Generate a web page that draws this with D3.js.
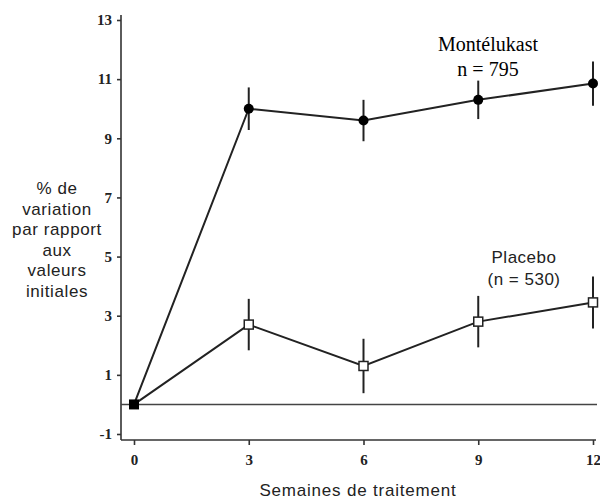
<!DOCTYPE html>
<html>
<head>
<meta charset="utf-8">
<script src="https://cdn.jsdelivr.net/npm/d3@7"></script>
<style>
  body { margin: 0; background: #fff; }
  svg { display: block; }
</style>
</head>
<body>
<svg id="chart" width="600" height="502"></svg>
<script>
// weeks of treatment
var weeks = [0, 3, 6, 9, 12];
// % change from baseline, with half-length of error bars
var montelukast = [0, 10.0, 9.6, 10.3, 10.85];
var montelukastErr = [0, 0.72, 0.7, 0.65, 0.75];
var placebo = [0, 2.7, 1.3, 2.8, 3.45];
var placeboErr = [0, 0.87, 0.92, 0.87, 0.88];

var yTicks = [-1, 1, 3, 5, 7, 9, 11, 13];
var xTicks = [0, 3, 6, 9, 12];
var yLabelLines = ['% de', 'variation', 'par rapport', 'aux', 'valeurs', 'initiales'];

var serif = '"Liberation Serif", "Times New Roman", serif';
var sans = '"Liberation Sans", Arial, sans-serif';

var svg = d3.select('#chart');

var x = d3.scaleLinear().domain([0, 12]).range([134, 593]);
var y = d3.scaleLinear().domain([-1, 13]).range([434, 20]);

var axisLeft = 121, axisBottom = 440;
var fmt = function (d) { return String(d); };

// y axis
var yAxis = svg.append('g')
  .attr('transform', 'translate(' + axisLeft + ',0)')
  .call(d3.axisLeft(y).tickValues(yTicks).tickFormat(fmt).tickSize(4).tickPadding(5));
yAxis.select('.domain').attr('d', 'M0,15V' + axisBottom);

// x axis
var xAxis = svg.append('g')
  .attr('transform', 'translate(0,' + axisBottom + ')')
  .call(d3.axisBottom(x).tickValues(xTicks).tickFormat(fmt).tickSize(5).tickPadding(9));
xAxis.select('.domain').attr('d', 'M' + axisLeft + ',0H596');

svg.selectAll('.tick text')
  .attr('font-family', serif)
  .attr('font-weight', 'bold')
  .attr('font-size', 15)
  .attr('fill', '#222');
svg.selectAll('.domain, .tick line').attr('stroke', '#333').attr('stroke-width', 1.6);

// baseline at zero
svg.append('line')
  .attr('x1', axisLeft).attr('x2', 597)
  .attr('y1', y(0)).attr('y2', y(0))
  .attr('stroke', '#444').attr('stroke-width', 1.6);

function drawSeries(vals, errs, kind) {
  var pts = weeks.map(function (w, i) { return { w: w, v: vals[i], e: errs[i] }; });
  var line = d3.line().x(function (d) { return x(d.w); }).y(function (d) { return y(d.v); });
  var g = svg.append('g');
  g.append('path').datum(pts)
    .attr('d', line).attr('fill', 'none')
    .attr('stroke', '#222').attr('stroke-width', 2);

  var rest = pts.slice(1);
  g.selectAll('.err').data(rest).enter().append('line')
    .attr('x1', function (d) { return x(d.w); })
    .attr('x2', function (d) { return x(d.w); })
    .attr('y1', function (d) { return y(d.v + d.e); })
    .attr('y2', function (d) { return y(d.v - d.e); })
    .attr('stroke', '#222').attr('stroke-width', 2);

  if (kind == 'circle') {
    g.selectAll('.pt').data(rest).enter().append('circle')
      .attr('cx', function (d) { return x(d.w); })
      .attr('cy', function (d) { return y(d.v); })
      .attr('r', 5).attr('fill', '#000');
  } else {
    g.selectAll('.pt').data(rest).enter().append('rect')
      .attr('x', function (d) { return x(d.w) - 4.5; })
      .attr('y', function (d) { return y(d.v) - 4.5; })
      .attr('width', 9).attr('height', 9)
      .attr('fill', '#fff').attr('stroke', '#222').attr('stroke-width', 1.5);
  }
}

drawSeries(placebo, placeboErr, 'square');
drawSeries(montelukast, montelukastErr, 'circle');

// shared starting point
svg.append('rect')
  .attr('x', x(0) - 5).attr('y', y(0) - 5)
  .attr('width', 10).attr('height', 10)
  .attr('fill', '#000');

// series labels
svg.append('text').attr('x', 488).attr('y', 51).attr('text-anchor', 'middle')
  .attr('font-family', serif).attr('font-size', 20).text('Montélukast');
svg.append('text').attr('x', 488).attr('y', 76).attr('text-anchor', 'middle')
  .attr('font-family', serif).attr('font-size', 20).text('n = 795');
svg.append('text').attr('x', 524).attr('y', 263).attr('text-anchor', 'middle')
  .attr('font-family', sans).attr('font-size', 17).attr('letter-spacing', 0.5)
  .attr('fill', '#222').text('Placebo');
svg.append('text').attr('x', 524).attr('y', 285).attr('text-anchor', 'middle')
  .attr('font-family', sans).attr('font-size', 17).attr('letter-spacing', 0.5)
  .attr('fill', '#222').text('(n = 530)');

// y axis title
svg.append('text').attr('text-anchor', 'middle')
  .attr('font-family', sans).attr('font-size', 17).attr('letter-spacing', 0.6)
  .attr('fill', '#222')
  .selectAll('tspan').data(yLabelLines).enter().append('tspan')
  .attr('x', 57)
  .attr('y', function (d, i) { return 194 + i * 20.5; })
  .text(function (d) { return d; });

// x axis title
svg.append('text').attr('x', 358).attr('y', 496).attr('text-anchor', 'middle')
  .attr('font-family', sans).attr('font-size', 17).attr('letter-spacing', 0.8)
  .attr('fill', '#222')
  .text('Semaines de traitement');
</script>
</body>
</html>
